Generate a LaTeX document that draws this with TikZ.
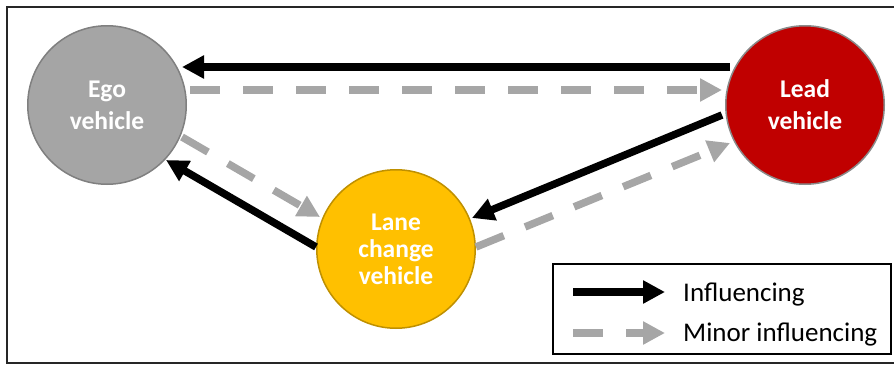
\documentclass[tikz,border=0pt]{standalone}
\usepackage{fontspec}
\setmainfont{Carlito}
\usetikzlibrary{arrows.meta,calc}
\definecolor{egogray}{HTML}{A5A5A5}
\definecolor{egoedge}{HTML}{808080}
\definecolor{leadred}{HTML}{C00000}
\definecolor{leadedge}{HTML}{8A8A8A}
\definecolor{laneyel}{HTML}{FFC000}
\definecolor{laneedge}{HTML}{BF9000}
\definecolor{minorgray}{HTML}{A6A6A6}
\definecolor{framecol}{HTML}{262626}
\begin{document}
\begin{tikzpicture}[x=1pt,y=-1pt,
  veh/.style={circle, minimum size=158.5pt, inner sep=0pt, line width=1.5pt, text=white,
    font=\bfseries\fontsize{25.5}{32}\selectfont, align=center},
  inf/.style={line width=7.5pt, black, -{Triangle[length=22pt,width=22pt]}},
  minor/.style={line width=7.5pt, minorgray, dash pattern=on 30pt off 23pt,
    -{Triangle[length=22pt,width=22pt]}},
  legtext/.style={anchor=base west, inner sep=0pt, font=\fontsize{27}{32}\selectfont, text=black}]
\useasboundingbox (0,0) rectangle (894,367);
\draw[framecol, line width=2pt] (894,7) -- (7,7) -- (7,363) -- (894,363);

\node[veh, fill=egogray, draw=egoedge] (ego) at (107,105) {Ego\\vehicle};
\node[veh, fill=leadred, draw=leadedge] (lead) at (805,105) {Lead\\vehicle};
\node[veh, fill=laneyel, draw=laneedge, font=\bfseries\fontsize{25.5}{27}\selectfont] (lane) at (396,249) {Lane\\change\\vehicle};

\draw[inf] ($(lead.center)+(-75,-38)$) -- ($(ego.center)+(75,-38)$);
\draw[minor] ($(ego.center)+(83,-15)$) -- ($(lead.center)+(-83,-15)$);
\draw[minor] ($(ego.center)+(75,32)$) -- ($(lane.center)+(-76,-32)$);
\draw[inf] ($(lane.center)+(-80,-2)$) -- ($(ego.center)+(59,55)$);
\draw[inf] ($(lead.center)+(-83,10)$) -- ($(lane.center)+(76,-31)$);
\draw[minor] ($(lane.center)+(80,-2)$) -- ($(lead.center)+(-75,38)$);

\node[draw=black, line width=1.5pt, minimum width=338pt, minimum height=90pt, inner sep=0pt,
  anchor=north west] (legend) at (552,263) {};
\coordinate (infs) at ($(legend.north west)+(21,29)$);
\coordinate (infe) at ($(legend.north west)+(113,29)$);
\coordinate (mins) at ($(legend.north west)+(21,70)$);
\coordinate (mine) at ($(legend.north west)+(113,70)$);
\draw[inf] (infs) -- (infe);
\draw[minor] (mins) -- (mine);
\node[legtext] (inftext) at ($(legend.north west)+(131,38)$) {Influencing};
\node[legtext] (mintext) at ($(legend.north west)+(131,78.5)$) {Minor influencing};
\end{tikzpicture}
\end{document}
